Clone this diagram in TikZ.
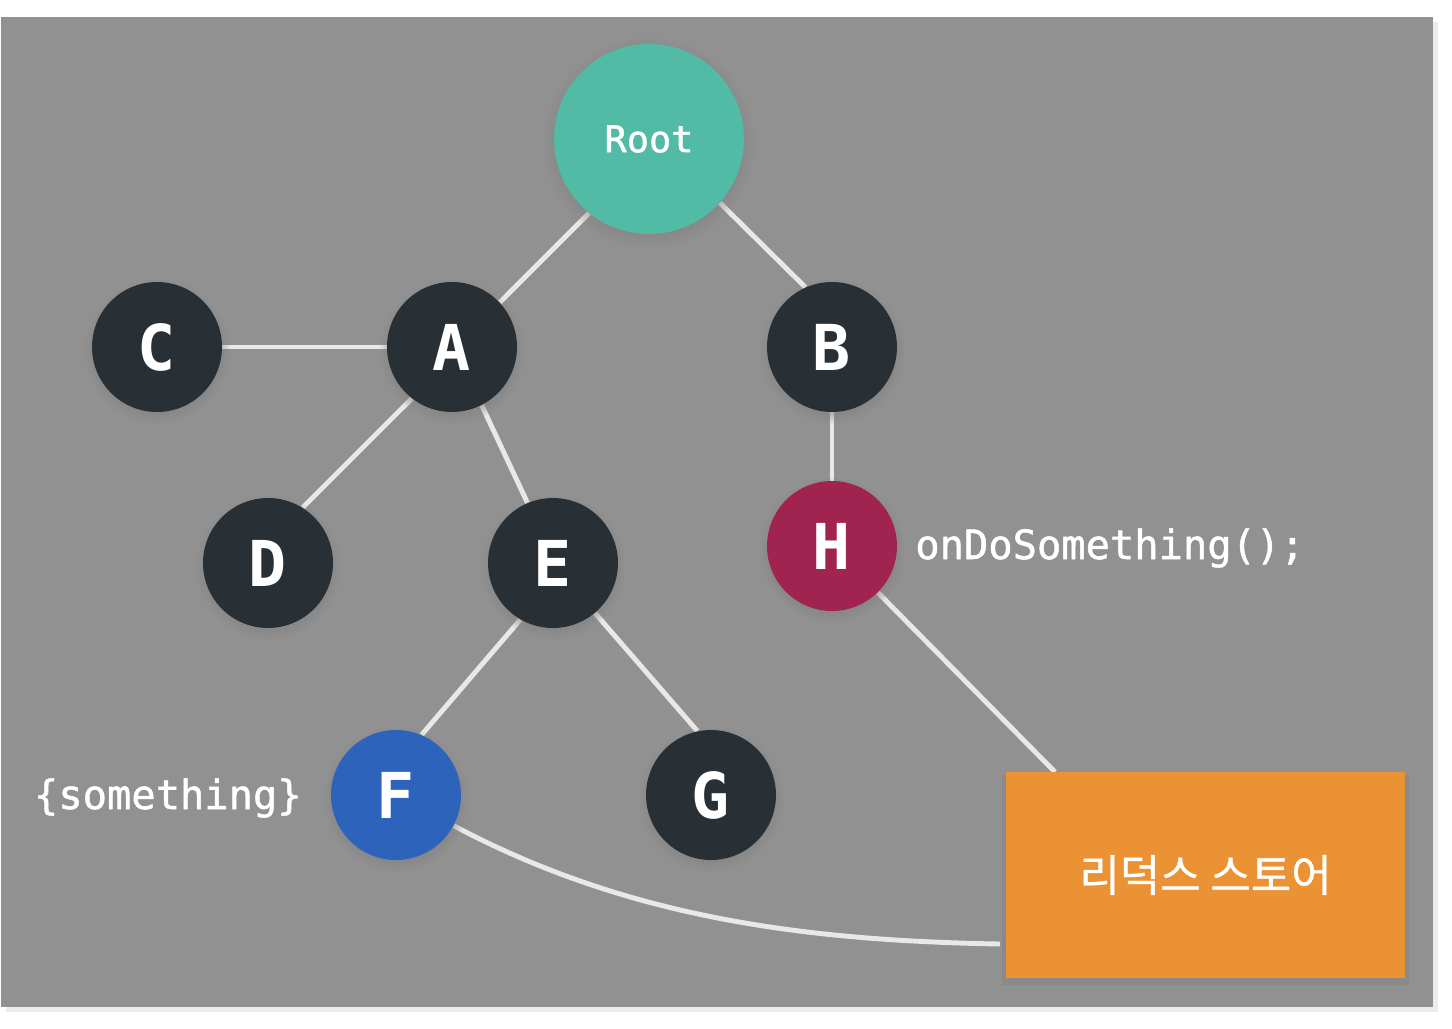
\documentclass[tikz,border=0pt]{standalone}
\usepackage{fontspec}
\setmonofont{DejaVu Sans Mono}
\newfontfamily\lblfont[FakeBold=1.2]{DejaVu Sans Mono}
\newfontfamily\kofont[FakeBold=0.8]{Noto Sans CJK KR}
\usepackage{tikz}
\usetikzlibrary{positioning,shadows,calc}
\definecolor{rbg}{HTML}{919191}
\definecolor{rroot}{HTML}{52BBA6}
\definecolor{rdark}{HTML}{283035}
\definecolor{rred}{HTML}{A12450}
\definecolor{rblue}{HTML}{2E63BC}
\definecolor{rorange}{HTML}{EB9234}
\definecolor{redge}{HTML}{E8E8E8}
\pgfdeclarelayer{bglayer}
\pgfdeclarelayer{edgelayer}
\pgfsetlayers{bglayer,edgelayer,main}

\begin{document}
\begin{tikzpicture}[x=0.02cm, y=-0.02cm,
  cnode/.style={circle, fill=rdark, text=white, minimum size=2.6cm, inner sep=0pt,
    font=\ttfamily\bfseries\fontsize{36}{40}\selectfont,
    circular drop shadow={shadow xshift=0pt, shadow yshift=-2pt, shadow scale=1.12, opacity=.5}},
  lbl/.style={text=white, font=\lblfont\fontsize{23}{26}\selectfont, inner sep=0pt},
  edge/.style={draw=redge, line width=2.8pt}
]
\useasboundingbox (0,0) rectangle (1452,1028);
\begin{pgfonlayer}{bglayer}
\fill[rbg, drop shadow={shadow xshift=3pt, shadow yshift=-3pt, opacity=.15}] (1,17) rectangle (1433,1007);
\end{pgfonlayer}

% tree
\node[cnode, fill=rroot, minimum size=3.8cm, font=\lblfont\fontsize{21}{24}\selectfont] (root) at (649,139) {Root};
\node[cnode] (a) at (452,347) {A};
\node[cnode] (b) at (832,347) {B};
\node[cnode] (c) at (157,347) {C};
\node[cnode] (d) at (268,563) {D};
\node[cnode] (e) at (553,563) {E};
\node[cnode, fill=rred] (h) at (832,546) {H};
\node[cnode, fill=rblue] (f) at (396,795) {F};
\node[cnode] (g) at (711,795) {G};

\node[rectangle, fill=rorange, text=white, minimum width=7.98cm, minimum height=4.12cm,
  font=\kofont\fontsize{25}{28}\selectfont,
  drop shadow={shadow xshift=0pt, shadow yshift=-3pt, shadow scale=1.02, opacity=.4}] (store) at (1205.5,875) {리덕스 스토어};

\node[lbl, anchor=west] (ondo) at (915,548) {onDoSomething();};
\node[lbl, anchor=east] (some) at (302,798) {\{something\}};

% edges under the nodes
\coordinate (hin) at (1055,772);
\coordinate (sin) at (1000,944);
\begin{pgfonlayer}{edgelayer}
\draw[edge] (root.231) -- (a.43);
\draw[edge] (root.-42) -- (b.114);
\draw[edge] (c) -- (a);
\draw[edge] (a.232) -- (d.58);
\draw[edge] (a.-63) -- (e.113);
\draw[edge] (b) -- (h);
\draw[edge] (e.240) -- (f.67);
\draw[edge] (e.-50) -- (g.102);
\draw[edge] (h) -- (hin);
\draw[edge] (f) to[out=-28, in=179, looseness=0.9] (sin);
\end{pgfonlayer}
\end{tikzpicture}
\end{document}
